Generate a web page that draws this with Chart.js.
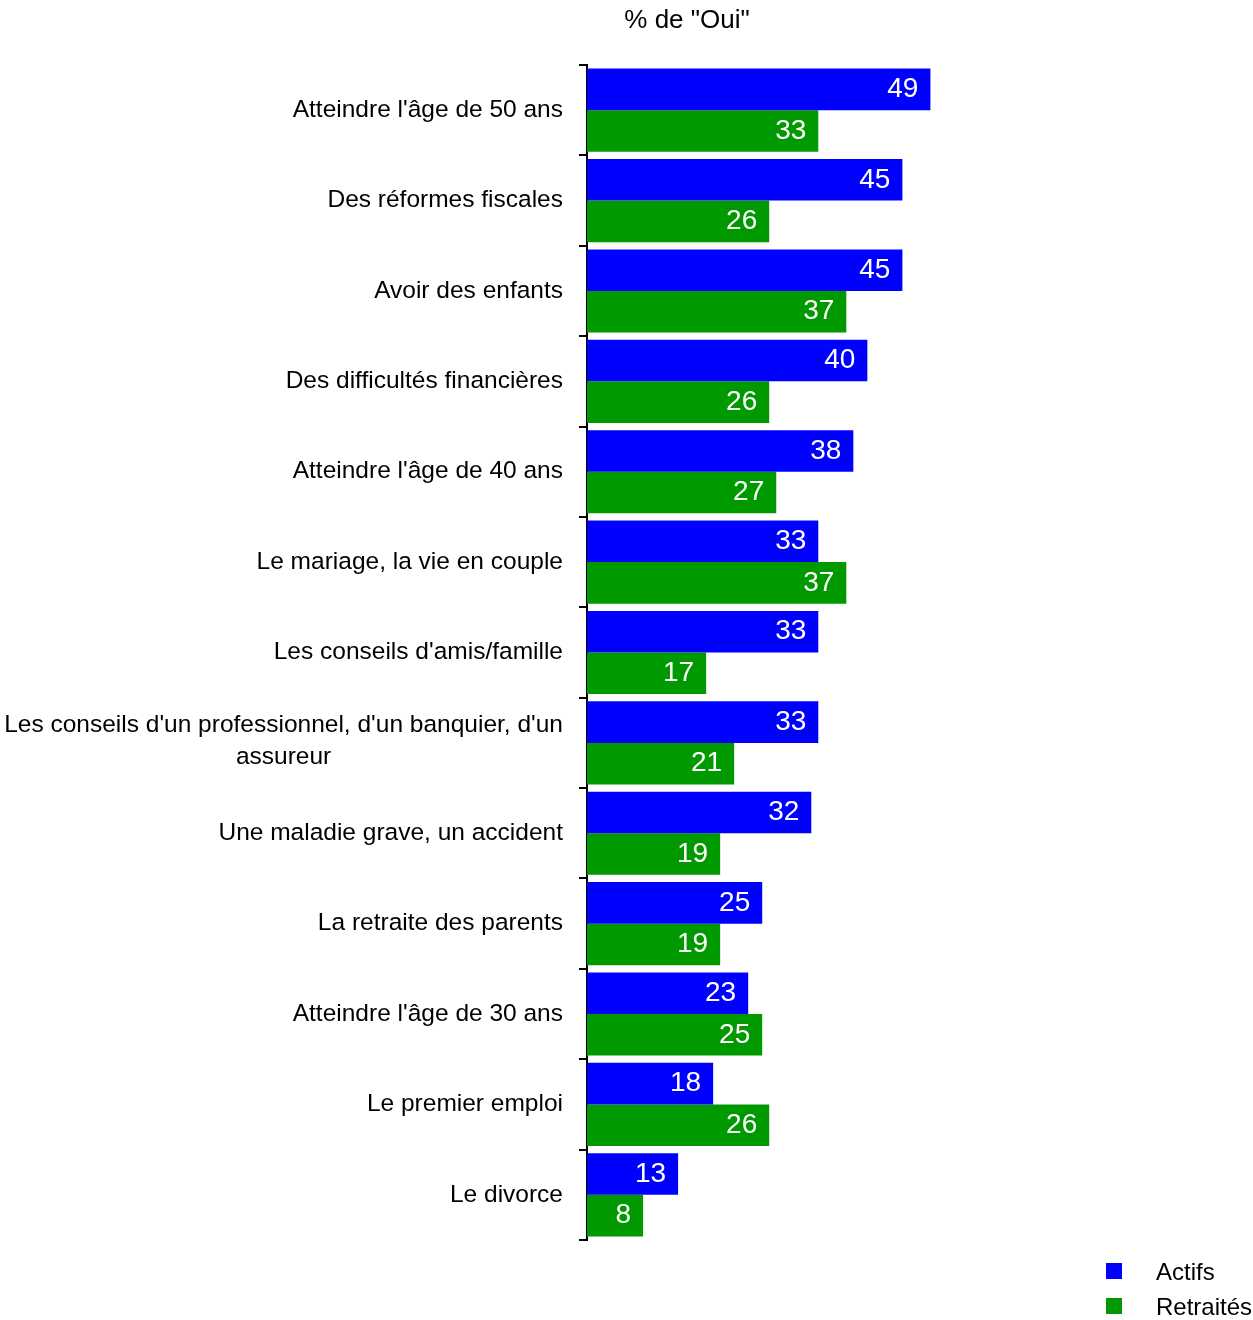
<!DOCTYPE html>
<html>
<head>
<meta charset="utf-8">
<script src="https://cdn.jsdelivr.net/npm/chart.js@4"></script>
<style>
  html, body { margin: 0; padding: 0; background: #fff; }
  #wrap { width: 1253px; height: 1320px; position: relative; }
</style>
</head>
<body>
<div id="wrap"><canvas id="graph" width="1253" height="1320"></canvas></div>
<script>
// Données
const categories = [
    "Atteindre l'âge de 50 ans",
    "Des réformes fiscales",
    "Avoir des enfants",
    "Des difficultés financières",
    "Atteindre l'âge de 40 ans",
    "Le mariage, la vie en couple",
    "Les conseils d'amis/famille",
    ["Les conseils d'un professionnel, d'un banquier, d'un", "assureur"],
    "Une maladie grave, un accident",
    "La retraite des parents",
    "Atteindre l'âge de 30 ans",
    "Le premier emploi",
    "Le divorce"
];
const actifs = [49, 45, 45, 40, 38, 33, 33, 33, 32, 25, 23, 18, 13];
const retraites = [33, 26, 37, 26, 27, 37, 17, 21, 19, 19, 25, 26, 8];
const titre = '% de "Oui"';

const police = '"Liberation Sans", Arial, sans-serif';

// Titre, étiquettes des catégories, valeurs et légende
const dessins = {
    id: 'dessins',
    afterDatasetsDraw(chart) {
        const ctx = chart.ctx;
        const y = chart.scales.y;
        const gauche = chart.chartArea.left;
        ctx.save();
        // Titre
        ctx.fillStyle = '#000';
        ctx.font = '26px ' + police;
        ctx.textAlign = 'center';
        ctx.textBaseline = 'middle';
        ctx.fillText(titre, 687, 21);
        // Catégories
        ctx.font = '24.5px ' + police;
        chart.data.labels.forEach((lab, i) => {
            const yc = y.getPixelForValue(i);
            const xd = gauche - 24;
            if (Array.isArray(lab)) {
                const l0 = ctx.measureText(lab[0]).width;
                const centre = xd - l0 / 2;
                const h = 32;
                lab.forEach((ligne, k) => {
                    ctx.textAlign = 'center';
                    ctx.fillText(ligne, centre, yc - 2 + (k - (lab.length - 1) / 2) * h);
                });
            } else {
                ctx.textAlign = 'right';
                ctx.fillText(lab, xd, yc);
            }
        });
        // Valeurs dans les barres
        ctx.font = '28px ' + police;
        ctx.fillStyle = '#fff';
        ctx.textAlign = 'right';
        chart.data.datasets.forEach((ds, d) => {
            chart.getDatasetMeta(d).data.forEach((bar, i) => {
                ctx.fillText(String(ds.data[i]), bar.x - 12, bar.y);
            });
        });
        // Légende
        ctx.font = '24px ' + police;
        ctx.textAlign = 'left';
        chart.data.datasets.forEach((ds, d) => {
            const yy = 1271 + d * 35;
            ctx.fillStyle = ds.backgroundColor;
            ctx.fillRect(1106, yy - 8, 16, 16);
            ctx.fillStyle = '#000';
            ctx.fillText(ds.label, 1156, yy + 2);
        });
        ctx.restore();
    }
};

const ctx = document.getElementById('graph').getContext('2d');
new Chart(ctx, {
    type: 'bar',
    data: {
        labels: categories,
        datasets: [
            { label: 'Actifs', data: actifs, backgroundColor: '#0000FF' },
            { label: 'Retraités', data: retraites, backgroundColor: '#009900' }
        ]
    },
    options: {
        indexAxis: 'y',
        responsive: false,
        animation: false,
        layout: { padding: { top: 65, bottom: 80, left: 0, right: 174 } },
        datasets: { bar: { categoryPercentage: 0.92, barPercentage: 1.0 } },
        plugins: { legend: { display: false }, title: { display: false }, tooltip: { enabled: false } },
        scales: {
            x: { display: false, min: 0, max: 70.2 },
            y: {
                afterFit: s => { s.width = 587; },
                ticks: { display: false },
                grid: { drawOnChartArea: false, offset: true, tickLength: 8, color: '#000', lineWidth: 2 },
                border: { display: true, color: '#000', width: 2 }
            }
        }
    },
    plugins: [dessins]
});
</script>
</body>
</html>
